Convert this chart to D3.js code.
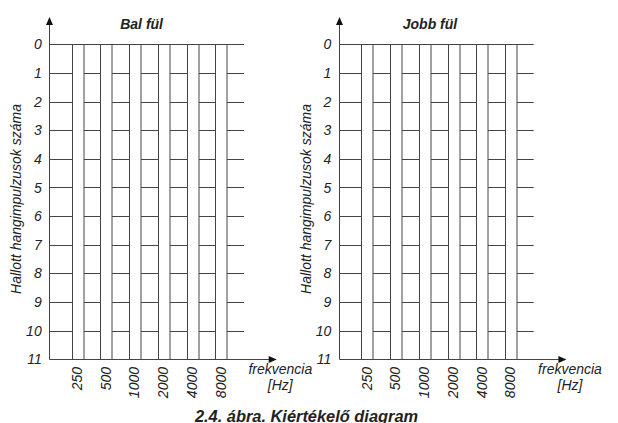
<!DOCTYPE html>
<html><head><meta charset="utf-8">
<script src="https://cdn.jsdelivr.net/npm/d3@7"></script>
<style>body{margin:0;background:#fff}svg{display:block}text{font-family:"Liberation Sans",Arial,sans-serif;fill:#222}</style>
</head><body><svg id="c" width="618" height="423"></svg>
<script>
const panels = ["Bal fül", "Jobb fül"];
const frequencies = ["250", "500", "1000", "2000", "4000", "8000"];
const levels = [0,1,2,3,4,5,6,7,8,9,10,11];
const yTitle = "Hallott hangimpulzusok száma";
const xTitle = ["frekvencia", "[Hz]"];
const caption = "2.4. ábra. Kiértékelő diagram";

const svg = d3.select("#c");
const stroke = "#444";
const y = d3.scaleLinear().domain([0, 11]).range([44.3, 359.3]);
const offsets = [49.3, 339];
const stripW = 11.5;

panels.forEach((name, i) => {
  const ox = offsets[i];
  const g = svg.append("g");
  const x = d3.scalePoint().domain(frequencies).range([ox + 28.2, ox + 171.7]);
  const lineEnd = ox + 194.7, arrowEnd = ox + 227.4;

  g.selectAll("line.h").data(levels.slice(0, 11)).join("line")
    .attr("x1", ox).attr("x2", lineEnd)
    .attr("y1", d => Math.round(y(d)) + 0.5).attr("y2", d => Math.round(y(d)) + 0.5)
    .attr("stroke", stroke).attr("stroke-width", 1);

  g.selectAll("rect.s").data(frequencies).join("rect")
    .attr("x", d => Math.round(x(d) - stripW / 2) + 0.5)
    .attr("y", Math.round(y(0)) + 0.5)
    .attr("width", stripW)
    .attr("height", Math.round(y(11)) - Math.round(y(0)))
    .attr("fill", "#fff").attr("stroke", stroke).attr("stroke-width", 1);

  const ax = Math.round(ox) + 0.5;
  g.append("line").attr("x1", ax).attr("x2", ax).attr("y1", 24).attr("y2", Math.round(y(11)) + 0.5)
    .attr("stroke", stroke);
  g.append("path").attr("d", `M${ax},17 L${ax - 3.5},25 L${ax + 3.5},25 Z`).attr("fill", "#111");
  const by = Math.round(y(11)) + 0.5;
  g.append("line").attr("x1", ax).attr("x2", arrowEnd - 7).attr("y1", by).attr("y2", by).attr("stroke", stroke);
  g.append("path").attr("d", `M${arrowEnd},${by} L${arrowEnd - 8},${by - 3.5} L${arrowEnd - 8},${by + 3.5} Z`).attr("fill", "#111");

  g.selectAll("text.yt").data(levels).join("text")
    .attr("x", ox - 7.6).attr("y", d => y(d)).attr("dy", "0.36em")
    .attr("text-anchor", "end").attr("font-size", 14).attr("font-style", "italic")
    .text(d => d);

  g.selectAll("text.xt").data(frequencies).join("text")
    .attr("transform", d => `translate(${x(d) - 0.5},367) rotate(-90)`)
    .attr("dy", "0.36em").attr("text-anchor", "end")
    .attr("font-size", 14).attr("font-style", "italic")
    .text(d => d);

  g.append("text").attr("x", ox + (i === 0 ? 92.3 : 91)).attr("y", 29)
    .attr("text-anchor", "middle").attr("font-size", 14)
    .attr("font-weight", "bold").attr("font-style", "italic").text(name);

  g.append("text").attr("transform", `translate(${ox - 28.5},199) rotate(-90)`)
    .attr("text-anchor", "middle").attr("font-size", 14).attr("font-style", "italic")
    .text(yTitle);

  g.selectAll("text.xa").data(xTitle).join("text")
    .attr("x", ox + 231).attr("y", (d, j) => 373.5 + j * 16)
    .attr("text-anchor", "middle").attr("font-size", 14).attr("font-style", "italic")
    .text(d => d);
});

svg.append("text").attr("x", 306.5).attr("y", 421.5).attr("text-anchor", "middle")
  .attr("font-size", 16.4).attr("font-weight", "bold").attr("font-style", "italic")
  .text(caption);
</script></body></html>
